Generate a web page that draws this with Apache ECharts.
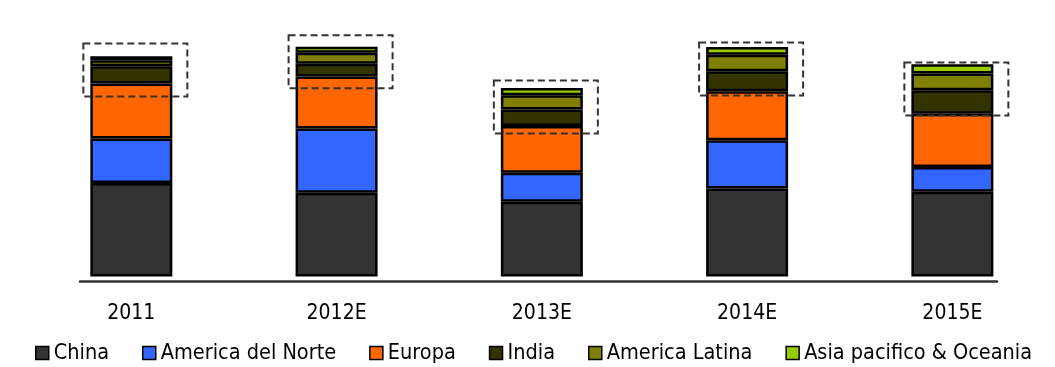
<!DOCTYPE html>
<html>
<head>
<meta charset="utf-8">
<script src="https://cdn.jsdelivr.net/npm/echarts@6/dist/echarts.min.js"></script>
<style>
  html, body { margin: 0; padding: 0; background: #ffffff; }
  #chart { width: 1055px; height: 367px; }
</style>
</head>
<body>
<div id="chart"></div>
<script>
// ---- data ----
const categories = ['2011', '2012E', '2013E', '2014E', '2015E'];
const seriesNames = ['China', 'America del Norte', 'Europa', 'India', 'America Latina', 'Asia pacifico & Oceania'];
const china          = [93.6, 84.0, 75.0, 88.3, 85.0];
const americaNorte   = [44.7, 64.3, 29.0, 48.3, 24.6];
const europa         = [55.0, 52.0, 46.7, 49.0, 53.4];
const india          = [17.3, 13.0, 16.7, 20.0, 23.6];
const americaLatina  = [6.0, 11.0, 14.3, 16.7, 16.7];
const asiaPacifico   = [4.0, 6.0, 7.3, 7.7, 9.5];

const seriesData = [china, americaNorte, europa, india, americaLatina, asiaPacifico];
const colors = ['#333333', '#3366FF', '#FF6600', '#333300', '#808000', '#99CC00'];

// center of the highlighted group (India + America Latina + Asia pacifico) for each bar
const groupCenters = categories.map((c, i) => {
  const base = china[i] + americaNorte[i] + europa[i];
  const top = base + india[i] + americaLatina[i] + asiaPacifico[i];
  return [i, (base + top) / 2];
});

const FONT = "'DejaVu Sans Condensed', 'DejaVu Sans', sans-serif";

const chart = echarts.init(document.getElementById('chart'), null, { renderer: 'canvas' });

const barSeries = seriesNames.map((name, k) => ({
  name: name,
  type: 'bar',
  stack: 'total',
  xAxisIndex: 0,
  yAxisIndex: 0,
  barWidth: 82,
  data: seriesData[k],
  itemStyle: { color: colors[k], borderColor: '#000000', borderWidth: 2.5 },
  emphasis: { disabled: true },
  animation: false
}));

const boxSeries = {
  name: 'box',
  type: 'custom',
  xAxisIndex: 0,
  yAxisIndex: 0,
  z: 10,
  silent: true,
  animation: false,
  data: groupCenters,
  renderItem: function (params, api) {
    const p = api.coord([api.value(0), api.value(1)]);
    const w = 104, h = 53;
    return {
      type: 'rect',
      shape: { x: p[0] - w / 2 + 4, y: p[1] - h / 2, width: w, height: h },
      style: { fill: 'none', stroke: '#333333', lineWidth: 2, lineDash: [7, 4] }
    };
  }
};

const option = {
  backgroundColor: '#ffffff',
  animation: false,
  grid: [
    { left: 28.7, right: -3.7, top: 27, bottom: 90.5, containLabel: false },
    { left: 80, right: 58, top: 27, bottom: 85.5, containLabel: false }
  ],
  xAxis: [
    {
      type: 'category',
      gridIndex: 0,
      data: categories,
      axisLine: { show: false },
      axisTick: { show: false },
      axisLabel: { color: '#000000', fontFamily: FONT, fontSize: 21, margin: 27 },
      splitLine: { show: false }
    },
    {
      type: 'value',
      gridIndex: 1,
      min: 0, max: 1,
      axisLine: { show: true, lineStyle: { color: '#333333', width: 2.5 } },
      axisTick: { show: false },
      axisLabel: { show: false },
      splitLine: { show: false }
    }
  ],
  yAxis: [
    { type: 'value', gridIndex: 0, min: 0, max: 250, show: false, splitLine: { show: false } },
    { type: 'value', gridIndex: 1, min: 0, max: 1, show: false, splitLine: { show: false } }
  ],
  legend: {
    data: seriesNames,
    left: 30,
    top: 337,
    itemGap: 33,
    itemWidth: 13,
    itemHeight: 13,
    icon: 'rect',
    itemStyle: { borderColor: '#000000', borderWidth: 1.5 },
    textStyle: { color: '#000000', fontFamily: FONT, fontSize: 21.5 },
    selectedMode: false
  },
  series: barSeries.concat([boxSeries])
};

chart.setOption(option);
</script>
</body>
</html>
